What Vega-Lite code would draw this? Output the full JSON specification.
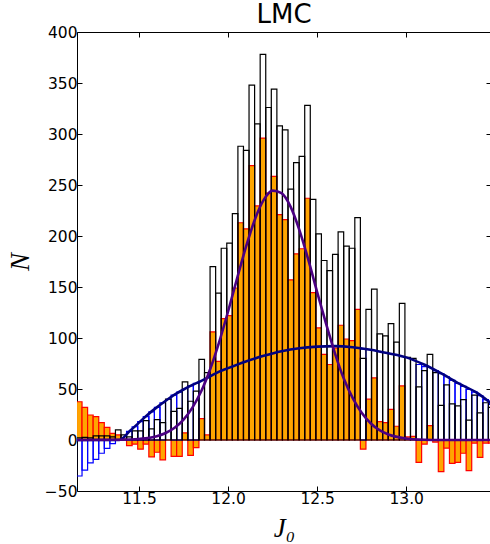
{
  "$schema": "https://vega.github.io/schema/vega-lite/v6.json",
  "width": 414,
  "height": 459,
  "autosize": "none",
  "padding": {"left": 77, "top": 32, "right": 0, "bottom": 53},
  "background": "white",
  "title": {"text": "LMC", "font": "DejaVu Sans", "fontSize": 26, "fontWeight": "normal", "color": "black", "anchor": "middle", "baseline": "alphabetic", "offset": -24},
  "config": {
    "view": {"stroke": null},
    "axis": {"grid": false, "domainColor": "black", "domainWidth": 1, "tickColor": "black", "tickWidth": 1, "tickSize": -5, "labelFont": "DejaVu Sans", "labelFontSize": 15.5, "labelColor": "black", "labelPadding": 5, "titleFont": "Liberation Serif", "titleFontStyle": "italic", "titleFontWeight": "normal", "titleFontSize": 27, "titleColor": "black"}
  },
  "datasets": {
    "bins": [
      {"a": 11.14900, "b": 11.18025, "n": 2, "m": -35.3, "r": 37.5},
      {"a": 11.18025, "b": 11.21150, "n": 2.5, "m": -29.5, "r": 32},
      {"a": 11.21150, "b": 11.24275, "n": 2, "m": -22.5, "r": 24.5},
      {"a": 11.24275, "b": 11.27400, "n": 4, "m": -19, "r": 23},
      {"a": 11.27400, "b": 11.30525, "n": 4, "m": -13, "r": 17},
      {"a": 11.30525, "b": 11.33650, "n": 4, "m": -8.3, "r": 12.3},
      {"a": 11.33650, "b": 11.36775, "n": 3, "m": -3.5, "r": 6.5},
      {"a": 11.36775, "b": 11.39900, "n": 10, "m": 5, "r": 5},
      {"a": 11.39900, "b": 11.43025, "n": 5, "m": 4, "r": 1},
      {"a": 11.43025, "b": 11.46150, "n": 3, "m": 8.5, "r": -5.5},
      {"a": 11.46150, "b": 11.49275, "n": 9, "m": 13, "r": -4},
      {"a": 11.49275, "b": 11.52400, "n": 9, "m": 18, "r": -9},
      {"a": 11.52400, "b": 11.55525, "n": 19, "m": 23, "r": -4},
      {"a": 11.55525, "b": 11.58650, "n": 11, "m": 27.5, "r": -16.5},
      {"a": 11.58650, "b": 11.61775, "n": 20, "m": 32, "r": -12},
      {"a": 11.61775, "b": 11.64900, "n": 17, "m": 36.5, "r": -19.5},
      {"a": 11.64900, "b": 11.68025, "n": 40, "m": 40, "r": 0},
      {"a": 11.68025, "b": 11.71150, "n": 28, "m": 44, "r": -16},
      {"a": 11.71150, "b": 11.74275, "n": 31, "m": 47, "r": -16},
      {"a": 11.74275, "b": 11.77400, "n": 57, "m": 50, "r": 7},
      {"a": 11.77400, "b": 11.80525, "n": 38, "m": 53, "r": -15},
      {"a": 11.80525, "b": 11.83650, "n": 48, "m": 55.5, "r": -7.5},
      {"a": 11.83650, "b": 11.86775, "n": 79, "m": 58, "r": 21},
      {"a": 11.86775, "b": 11.89900, "n": 66, "m": 61, "r": 5},
      {"a": 11.89900, "b": 11.93025, "n": 170, "m": 64, "r": 106},
      {"a": 11.93025, "b": 11.96150, "n": 144, "m": 67, "r": 77},
      {"a": 11.96150, "b": 11.99275, "n": 188, "m": 69, "r": 119},
      {"a": 11.99275, "b": 12.02400, "n": 193, "m": 71, "r": 122},
      {"a": 12.02400, "b": 12.05525, "n": 222, "m": 73, "r": 149},
      {"a": 12.05525, "b": 12.08650, "n": 288, "m": 75, "r": 213},
      {"a": 12.08650, "b": 12.11775, "n": 284, "m": 77, "r": 207},
      {"a": 12.11775, "b": 12.14900, "n": 348, "m": 79, "r": 269},
      {"a": 12.14900, "b": 12.18025, "n": 310, "m": 80.5, "r": 229.5},
      {"a": 12.18025, "b": 12.21150, "n": 378, "m": 82, "r": 296},
      {"a": 12.21150, "b": 12.24275, "n": 326, "m": 84, "r": 242},
      {"a": 12.24275, "b": 12.27400, "n": 344, "m": 85.5, "r": 258.5},
      {"a": 12.27400, "b": 12.30525, "n": 308, "m": 87, "r": 221},
      {"a": 12.30525, "b": 12.33650, "n": 304, "m": 88, "r": 216},
      {"a": 12.33650, "b": 12.36775, "n": 246, "m": 89, "r": 157},
      {"a": 12.36775, "b": 12.39900, "n": 272, "m": 89.5, "r": 182.5},
      {"a": 12.39900, "b": 12.43025, "n": 278, "m": 90.5, "r": 187.5},
      {"a": 12.43025, "b": 12.46150, "n": 328, "m": 91, "r": 237},
      {"a": 12.46150, "b": 12.49275, "n": 236, "m": 91.5, "r": 144.5},
      {"a": 12.49275, "b": 12.52400, "n": 202, "m": 92, "r": 110},
      {"a": 12.52400, "b": 12.55525, "n": 176, "m": 92, "r": 84},
      {"a": 12.55525, "b": 12.58650, "n": 166, "m": 92, "r": 74},
      {"a": 12.58650, "b": 12.61775, "n": 182, "m": 92, "r": 90},
      {"a": 12.61775, "b": 12.64900, "n": 204, "m": 91.5, "r": 112.5},
      {"a": 12.64900, "b": 12.68025, "n": 190, "m": 91, "r": 99},
      {"a": 12.68025, "b": 12.71150, "n": 188, "m": 90.5, "r": 97.5},
      {"a": 12.71150, "b": 12.74275, "n": 218, "m": 90, "r": 128},
      {"a": 12.74275, "b": 12.77400, "n": 80, "m": 89, "r": -9},
      {"a": 12.77400, "b": 12.80525, "n": 128, "m": 88, "r": 40},
      {"a": 12.80525, "b": 12.83650, "n": 148, "m": 87, "r": 61},
      {"a": 12.83650, "b": 12.86775, "n": 104, "m": 86, "r": 18},
      {"a": 12.86775, "b": 12.89900, "n": 102, "m": 85, "r": 17},
      {"a": 12.89900, "b": 12.93025, "n": 114, "m": 84, "r": 30},
      {"a": 12.93025, "b": 12.96150, "n": 96, "m": 82.5, "r": 13.5},
      {"a": 12.96150, "b": 12.99275, "n": 134, "m": 81, "r": 53},
      {"a": 12.99275, "b": 13.02400, "n": 81, "m": 78, "r": 3},
      {"a": 13.02400, "b": 13.05525, "n": 80, "m": 76.5, "r": 3.5},
      {"a": 13.05525, "b": 13.08650, "n": 52, "m": 74, "r": -22},
      {"a": 13.08650, "b": 13.11775, "n": 68, "m": 72, "r": -4},
      {"a": 13.11775, "b": 13.14900, "n": 84, "m": 70, "r": 14},
      {"a": 13.14900, "b": 13.18025, "n": 66, "m": 68, "r": -2},
      {"a": 13.18025, "b": 13.21150, "n": 34, "m": 65, "r": -31},
      {"a": 13.21150, "b": 13.24275, "n": 54, "m": 62, "r": -8},
      {"a": 13.24275, "b": 13.27400, "n": 35.5, "m": 58.5, "r": -23},
      {"a": 13.27400, "b": 13.30525, "n": 33.5, "m": 55.5, "r": -22},
      {"a": 13.30525, "b": 13.33650, "n": 39.5, "m": 52.5, "r": -13},
      {"a": 13.33650, "b": 13.36775, "n": 19.5, "m": 49.5, "r": -30},
      {"a": 13.36775, "b": 13.39900, "n": 44, "m": 47, "r": -3},
      {"a": 13.39900, "b": 13.43025, "n": 26.5, "m": 43.5, "r": -17},
      {"a": 13.43025, "b": 13.46150, "n": 36.5, "m": 39.5, "r": -3},
      {"a": 13.46150, "b": 13.49275, "n": 32, "m": 35, "r": -3}
    ],
    "purple": [
      {"x": 11.15, "y": 0}, {"x": 11.4, "y": 0.2}, {"x": 11.5, "y": 1}, {"x": 11.6, "y": 3.7},
      {"x": 11.65, "y": 6.9}, {"x": 11.7, "y": 12}, {"x": 11.75, "y": 20}, {"x": 11.8, "y": 31.8},
      {"x": 11.85, "y": 48}, {"x": 11.9, "y": 69.6}, {"x": 11.95, "y": 96}, {"x": 12.0, "y": 126},
      {"x": 12.05, "y": 158}, {"x": 12.1, "y": 189}, {"x": 12.15, "y": 216}, {"x": 12.2, "y": 235.4},
      {"x": 12.25, "y": 244.5}, {"x": 12.3, "y": 242}, {"x": 12.35, "y": 229}, {"x": 12.4, "y": 206},
      {"x": 12.45, "y": 177}, {"x": 12.5, "y": 145}, {"x": 12.55, "y": 114}, {"x": 12.6, "y": 85},
      {"x": 12.65, "y": 60}, {"x": 12.7, "y": 41}, {"x": 12.75, "y": 26.6}, {"x": 12.8, "y": 16.4},
      {"x": 12.85, "y": 9.6}, {"x": 12.9, "y": 5.4}, {"x": 13.0, "y": 1.5}, {"x": 13.1, "y": 0.3},
      {"x": 13.2, "y": 0}, {"x": 13.476, "y": 0}
    ],
    "navy": [
      {"x": 11.15, "y": 0}, {"x": 11.39, "y": 0}, {"x": 11.45, "y": 9}, {"x": 11.5, "y": 17},
      {"x": 11.55, "y": 25}, {"x": 11.6, "y": 32}, {"x": 11.65, "y": 38.5}, {"x": 11.7, "y": 44.5},
      {"x": 11.75, "y": 49.5}, {"x": 11.8, "y": 54}, {"x": 11.85, "y": 58}, {"x": 11.9, "y": 62.5},
      {"x": 11.95, "y": 67}, {"x": 12.0, "y": 70.5}, {"x": 12.1, "y": 77}, {"x": 12.2, "y": 82.5},
      {"x": 12.3, "y": 87}, {"x": 12.4, "y": 90}, {"x": 12.5, "y": 91.5}, {"x": 12.6, "y": 92},
      {"x": 12.7, "y": 91}, {"x": 12.8, "y": 88.5}, {"x": 12.9, "y": 85}, {"x": 13.0, "y": 81},
      {"x": 13.1, "y": 74}, {"x": 13.2, "y": 65}, {"x": 13.3, "y": 55}, {"x": 13.4, "y": 46},
      {"x": 13.476, "y": 36}
    ]
  },
  "resolve": {"scale": {"x": "shared", "y": "shared"}, "axis": {"x": "independent", "y": "independent"}},
  "layer": [
    {
      "data": {"name": "bins"},
      "mark": {"type": "bar", "fill": "#FFA500", "stroke": "#FF0000", "strokeWidth": 1.2, "clip": true},
      "encoding": {
        "x": {"field": "a", "type": "quantitative", "scale": {"domain": [11.152, 13.476], "nice": false, "zero": false}, "axis": {"orient": "bottom", "values": [11.5, 12.0, 12.5, 13.0], "format": ".1f", "title": "J₀", "titlePadding": 9}},
        "x2": {"field": "b"},
        "y": {"field": "r", "type": "quantitative", "stack": null, "scale": {"domain": [-50, 400], "nice": false}, "axis": {"orient": "left", "values": [-50, 0, 50, 100, 150, 200, 250, 300, 350, 400], "title": "N", "titlePadding": 10}},
        "y2": {"datum": 0}
      }
    },
    {
      "data": {"name": "bins"},
      "transform": [{"filter": "datum.m > datum.n || datum.m < 0"}],
      "mark": {"type": "bar", "fill": "white", "fillOpacity": 0, "stroke": "#0000FF", "strokeWidth": 1.2, "clip": true},
      "encoding": {
        "x": {"field": "a", "type": "quantitative", "axis": null},
        "x2": {"field": "b"},
        "y": {"field": "m", "type": "quantitative", "stack": null, "axis": null},
        "y2": {"datum": 0}
      }
    },
    {
      "data": {"name": "bins"},
      "mark": {"type": "bar", "fill": "white", "fillOpacity": 0, "stroke": "#000000", "strokeWidth": 1.2, "clip": true},
      "encoding": {
        "x": {"field": "a", "type": "quantitative", "axis": {"orient": "top", "values": [11.5, 12.0, 12.5, 13.0], "labels": false, "title": null}},
        "x2": {"field": "b"},
        "y": {"field": "n", "type": "quantitative", "stack": null, "axis": {"orient": "right", "values": [-50, 0, 50, 100, 150, 200, 250, 300, 350, 400], "labels": false, "title": null}},
        "y2": {"datum": 0}
      }
    },
    {
      "data": {"name": "navy"},
      "mark": {"type": "line", "color": "#000080", "strokeWidth": 2.6, "interpolate": "monotone", "clip": true},
      "encoding": {
        "x": {"field": "x", "type": "quantitative", "axis": null},
        "y": {"field": "y", "type": "quantitative", "axis": null}
      }
    },
    {
      "data": {"name": "purple"},
      "mark": {"type": "line", "color": "#4B0082", "strokeWidth": 2.6, "interpolate": "monotone", "clip": true},
      "encoding": {
        "x": {"field": "x", "type": "quantitative", "axis": null},
        "y": {"field": "y", "type": "quantitative", "axis": null}
      }
    }
  ]
}
